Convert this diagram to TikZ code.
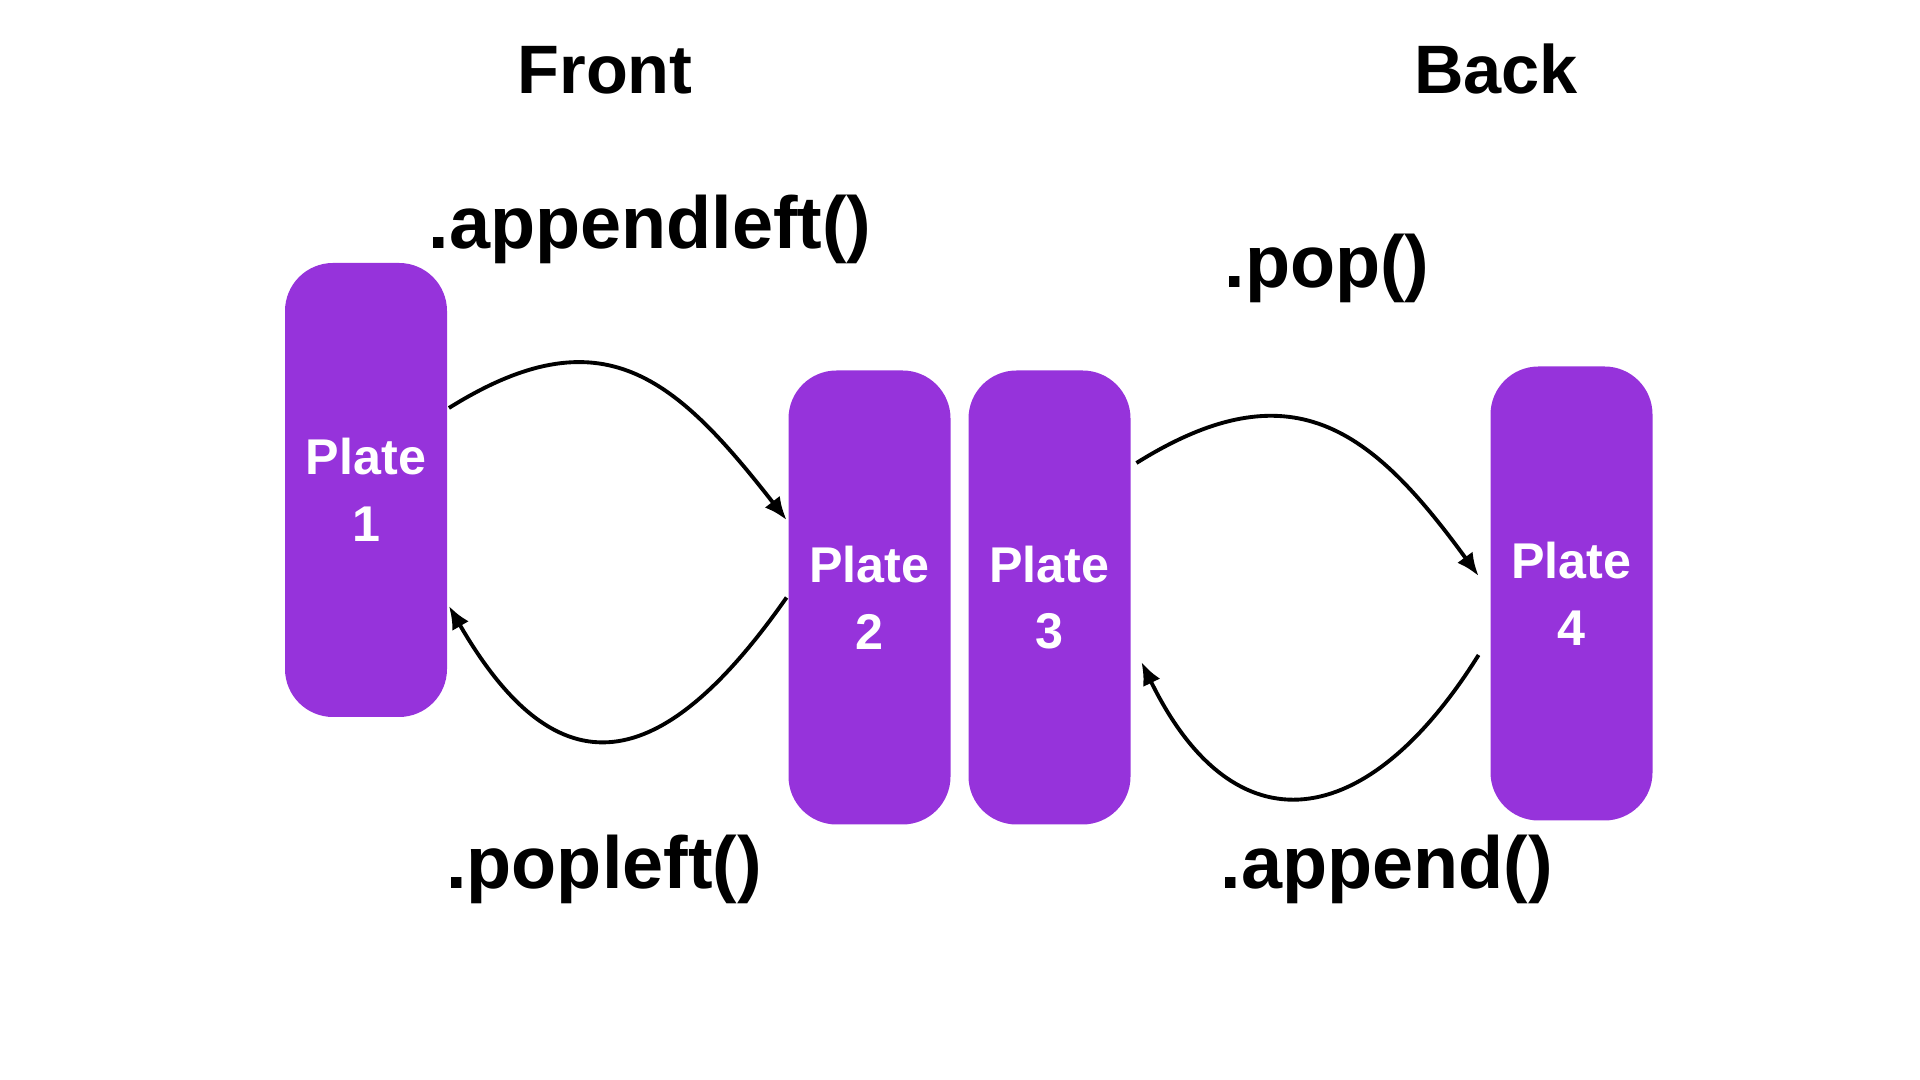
\documentclass[tikz,border=0pt]{standalone}
\usepackage{fontspec}
\setmainfont{Liberation Sans}
\usepackage{xcolor}
\usepackage{tikz}
\usetikzlibrary{arrows}
\usetikzlibrary{arrows.meta}
\definecolor{platepurple}{RGB}{150,51,219}

\begin{document}
\begin{tikzpicture}[>={Latex[length=2.3mm, width=1.9mm]}, line width=1.1pt,
       plate/.style={fill=platepurple, rounded corners=.48cm, minimum width=1.62cm, minimum height=4.54cm, inner sep=0pt, align=center, text=white, font=\fontsize{14.3}{19}\selectfont\bfseries},
       endname/.style={font=\fontsize{19.5}{23}\selectfont\bfseries, inner sep=0pt, anchor=base},
       opname/.style={font=\fontsize{21}{25}\selectfont\bfseries, inner sep=0pt, anchor=base}]
       \useasboundingbox (0, 0) rectangle (19.2, 10.8);

       % plates
       \node [plate] (p1) at (3.66, 5.90) {Plate\\1};
       \node [plate] (p2) at (8.695, 4.825) {Plate\\2};
       \node [plate] (p3) at (10.495, 4.825) {Plate\\3};
       \node [plate] (p4) at (15.715, 4.865) {Plate\\4};

       % ends of the deque
       \node [endname] (front) at (6.05, 9.86) {Front};
       \node [endname] (back) at (14.96, 9.86) {Back};

       % operations
       \node [opname] (appendleft) at (6.50, 8.31) {.appendleft()};
       \node [opname] (popleft) at (6.04, 1.91) {.popleft()};
       \node [opname] (pop) at (13.27, 7.92) {.pop()};
       \node [opname] (append) at (13.87, 1.91) {.append()};

       % front side arrows
       \draw [->] ([yshift=8.2mm]p1.east) to [out=32, in=128, looseness=1.3] ([yshift=7.75mm]p2.west);
       \draw [->] (p2.west) to [out=235, in=-60, looseness=1.65] ([yshift=-11.6mm]p1.east);

       % back side arrows
       \draw [->] ([shift={(.04, 1.345)}]p3.east) to [out=32, in=126, looseness=1.3] ([shift={(-.1, .175)}]p4.west);
       \draw [->] ([shift={(-.1, -.615)}]p4.west) to [out=238, in=-64, looseness=1.6] ([shift={(.09, -.645)}]p3.east);
\end{tikzpicture}
\end{document}
